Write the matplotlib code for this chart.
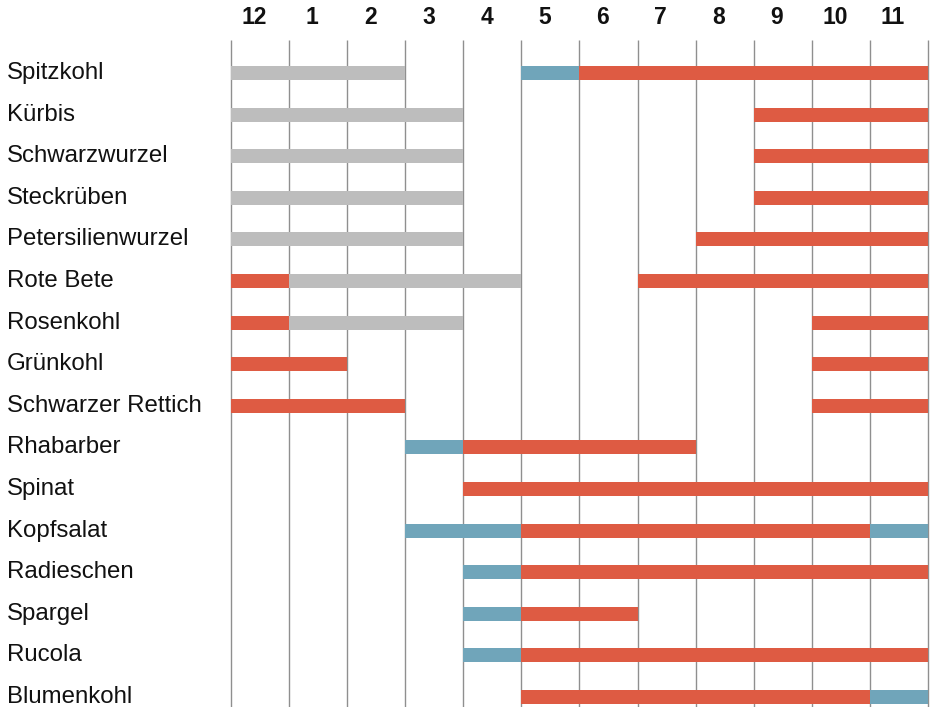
import matplotlib.pyplot as plt

plt.rcParams['font.family'] = ['Liberation Sans', 'DejaVu Sans']

# column order of the calendar: December first, then January .. November
months = [12, 1, 2, 3, 4, 5, 6, 7, 8, 9, 10, 11]

vegetables = ['Spitzkohl', 'Kürbis', 'Schwarzwurzel', 'Steckrüben',
              'Petersilienwurzel', 'Rote Bete', 'Rosenkohl', 'Grünkohl',
              'Schwarzer Rettich', 'Rhabarber', 'Spinat', 'Kopfsalat',
              'Radieschen', 'Spargel', 'Rucola', 'Blumenkohl']

# spans as (first column, column after last), columns index into `months`
fresh = {
    'Spitzkohl': [(6, 12)],
    'Kürbis': [(9, 12)],
    'Schwarzwurzel': [(9, 12)],
    'Steckrüben': [(9, 12)],
    'Petersilienwurzel': [(8, 12)],
    'Rote Bete': [(0, 1), (7, 12)],
    'Rosenkohl': [(0, 1), (10, 12)],
    'Grünkohl': [(0, 2), (10, 12)],
    'Schwarzer Rettich': [(0, 3), (10, 12)],
    'Rhabarber': [(4, 8)],
    'Spinat': [(4, 12)],
    'Kopfsalat': [(5, 11)],
    'Radieschen': [(5, 12)],
    'Spargel': [(5, 7)],
    'Rucola': [(5, 12)],
    'Blumenkohl': [(5, 11)],
}
stored = {
    'Spitzkohl': [(0, 3)],
    'Kürbis': [(0, 4)],
    'Schwarzwurzel': [(0, 4)],
    'Steckrüben': [(0, 4)],
    'Petersilienwurzel': [(0, 4)],
    'Rote Bete': [(1, 5)],
    'Rosenkohl': [(1, 4)],
}
greenhouse = {
    'Spitzkohl': [(5, 6)],
    'Rhabarber': [(3, 4)],
    'Kopfsalat': [(3, 5), (11, 12)],
    'Radieschen': [(4, 5)],
    'Spargel': [(4, 5)],
    'Rucola': [(4, 5)],
    'Blumenkohl': [(11, 12)],
}

RED = '#DE5B43'
BLUE = '#70A5BA'
GREY = '#BDBDBD'

W, H = 932, 707
x0, col_w = 231, 58.08     # pixel position of first grid line, column width
y0, row_h = 73, 41.6       # pixel position of first row, row spacing

fig = plt.figure(figsize=(W / 100, H / 100), dpi=100)
ax = fig.add_axes([0, 0, 1, 1])
ax.set_xlim(-x0 / col_w, (W - x0) / col_w)
ax.set_ylim((H - y0) / row_h, -y0 / row_h)
ax.axis('off')

# vertical month dividers
ax.vlines(range(len(months) + 1), (40 - y0) / row_h, (H - y0) / row_h,
          color='#8f8f8f', linewidth=1.0, zorder=1)

for kind, color in ((stored, GREY), (greenhouse, BLUE), (fresh, RED)):
    for name, spans in kind.items():
        row = vegetables.index(name)
        for a, b in spans:
            ax.barh(row, b - a, left=a, height=0.34, color=color,
                    linewidth=0, zorder=2)

for i, name in enumerate(vegetables):
    ax.text((7 - x0) / col_w, i, name, fontsize=17.3, ha='left',
            va='center', color='#111111')

for j, m in enumerate(months):
    ax.text(j + 0.4, (18 - y0) / row_h, str(m), fontsize=16.5,
            fontweight='bold', ha='center', va='center', color='#111111')

fig.savefig('out.png', dpi=100)
